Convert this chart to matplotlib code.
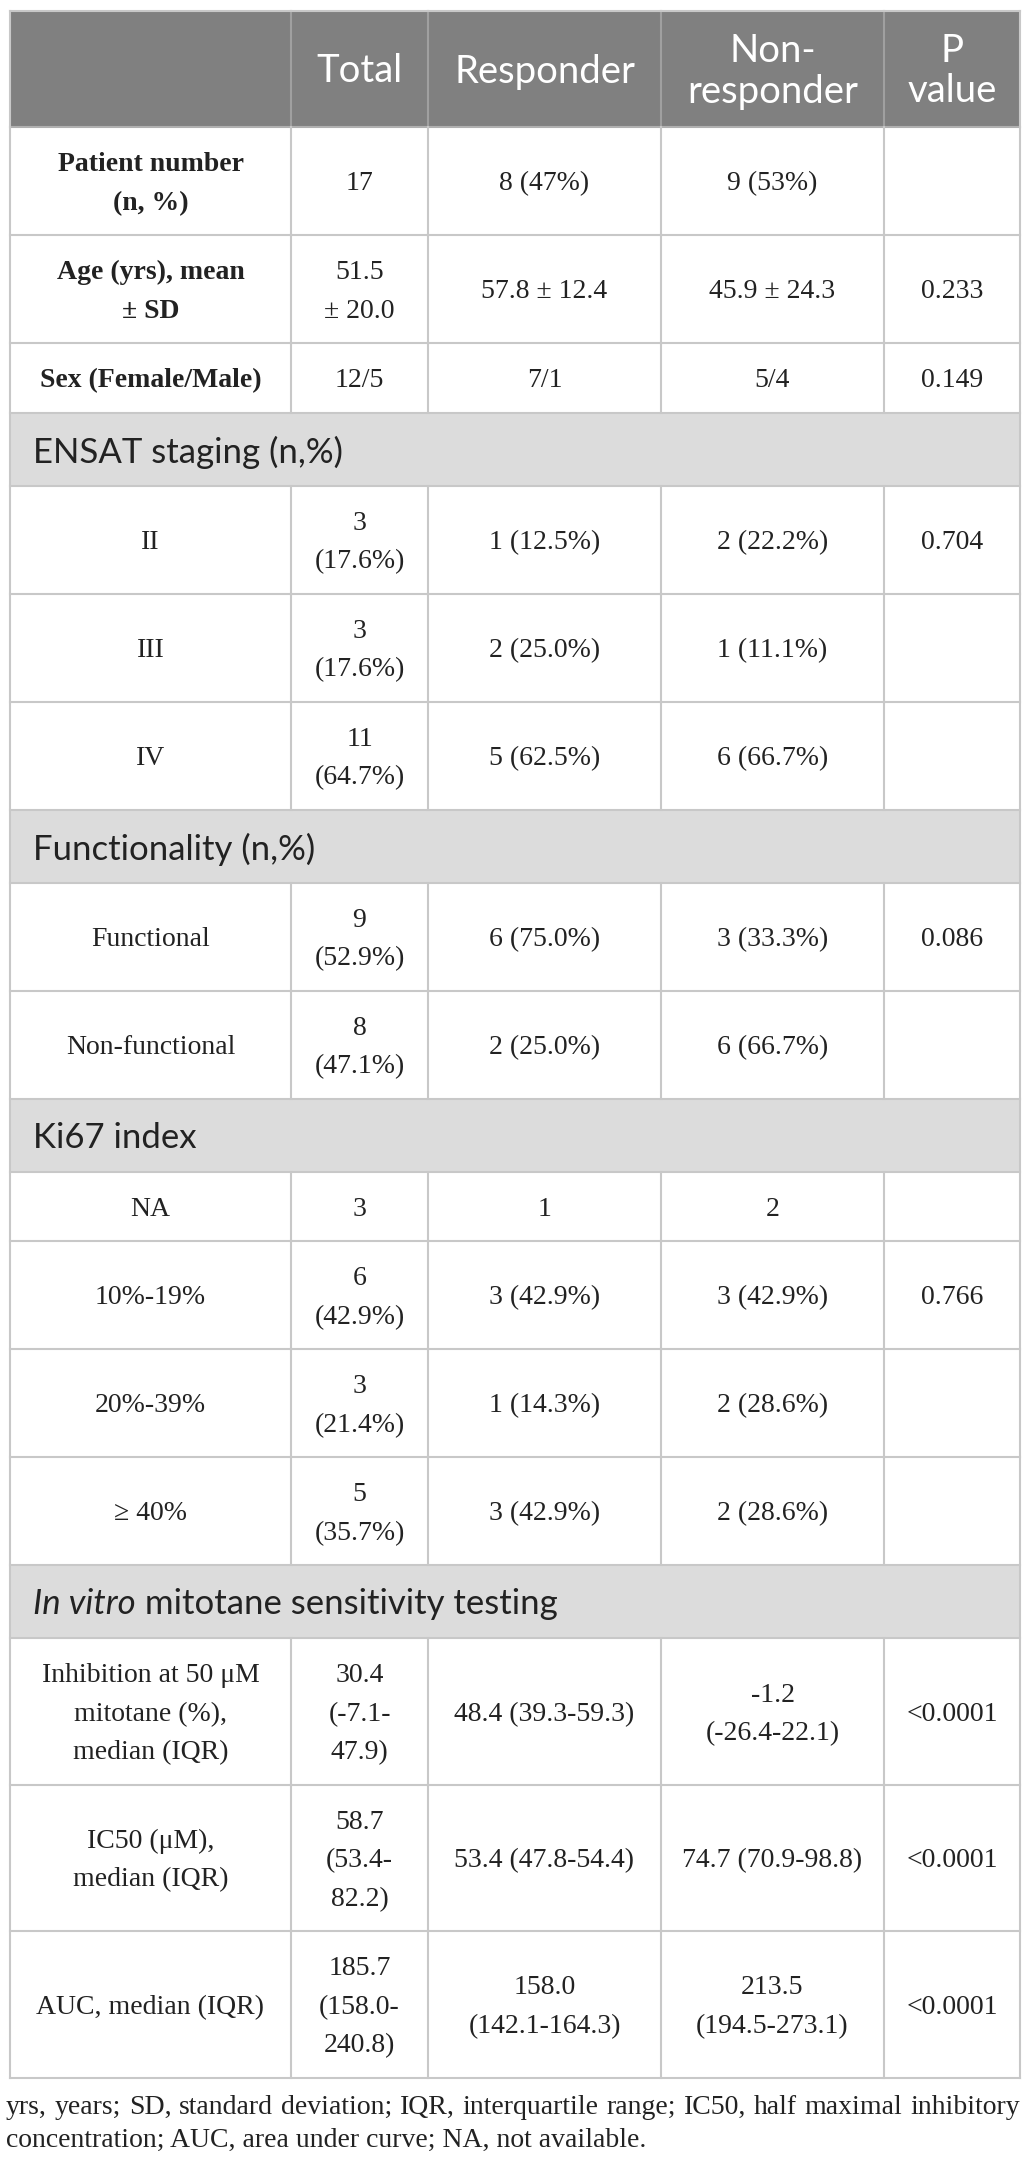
import matplotlib.pyplot as plt
from matplotlib.patches import Rectangle

# table content
header = ['', 'Total', 'Responder', 'Non-\nresponder', 'P\nvalue']
sections = ['', 'ENSAT staging (n,%)', 'Functionality (n,%)', 'Ki67 index',
            'In vitro mitotane sensitivity testing']
row_section = [0, 0, 0, 1, 1, 1, 2, 2, 3, 3, 3, 3, 4, 4, 4]
row_labels = ['Patient number\n(n, %)', 'Age (yrs), mean\n± SD', 'Sex (Female/Male)',
              'II', 'III', 'IV',
              'Functional', 'Non-functional',
              'NA', '10%-19%', '20%-39%', '≥ 40%',
              'Inhibition at 50 μM\nmitotane (%),\nmedian (IQR)',
              'IC50 (μM),\nmedian (IQR)', 'AUC, median (IQR)']
bold_labels = [True, True, True] + [False] * 12
total = ['17', '51.5\n± 20.0', '12/5',
         '3\n(17.6%)', '3\n(17.6%)', '11\n(64.7%)',
         '9\n(52.9%)', '8\n(47.1%)',
         '3', '6\n(42.9%)', '3\n(21.4%)', '5\n(35.7%)',
         '30.4\n(-7.1-\n47.9)', '58.7\n(53.4-\n82.2)', '185.7\n(158.0-\n240.8)']
responder = ['8 (47%)', '57.8 ± 12.4', '7/1',
             '1 (12.5%)', '2 (25.0%)', '5 (62.5%)',
             '6 (75.0%)', '2 (25.0%)',
             '1', '3 (42.9%)', '1 (14.3%)', '3 (42.9%)',
             '48.4 (39.3-59.3)', '53.4 (47.8-54.4)', '158.0\n(142.1-164.3)']
non_responder = ['9 (53%)', '45.9 ± 24.3', '5/4',
                 '2 (22.2%)', '1 (11.1%)', '6 (66.7%)',
                 '3 (33.3%)', '6 (66.7%)',
                 '2', '3 (42.9%)', '2 (28.6%)', '2 (28.6%)',
                 '-1.2\n(-26.4-22.1)', '74.7 (70.9-98.8)', '213.5\n(194.5-273.1)']
p_value = ['', '0.233', '0.149',
           '0.704', '', '',
           '0.086', '',
           '', '0.766', '', '',
           '<0.0001', '<0.0001', '<0.0001']
footnote = ['yrs, years; SD, standard deviation; IQR, interquartile range; IC50, half maximal inhibitory',
            'concentration; AUC, area under curve; NA, not available.']

W, H = 1025, 2167
fig = plt.figure(figsize=(W / 100, H / 100), dpi=100)
ax = fig.add_axes([0, 0, 1, 1])
ax.set_xlim(0, W)
ax.set_ylim(H, 0)
ax.axis('off')

col_edges = [10, 291, 428, 661, 884, 1020]
col_mid = [(a + b) / 2 for a, b in zip(col_edges[:-1], col_edges[1:])]
top = 11
header_h = 116
sec_h = 73
line_h = 38.5
pad = 31
grid = '#c8c8c8'
lw = 1.5
ink = '#222222'

serif = 'Liberation Serif'
sans = 'Lato'
body_size = 20
head_size = 27.5
sec_size = 25
note_size = 20


def cell_text(x, yc, s, spacing, **kw):
    lines = s.split('\n')
    n = len(lines)
    for k, ln in enumerate(lines):
        ax.text(x, yc + (k - (n - 1) / 2) * spacing, ln, va='center_baseline', **kw)


# header band
y = top
ax.add_patch(Rectangle((col_edges[0], y), col_edges[-1] - col_edges[0], header_h,
                       fc='#808080', ec='none'))
for j, h in enumerate(header):
    if h:
        cell_text(col_mid[j], y + header_h / 2 - 1, h, 40, ha='center',
                  family=sans, fontsize=head_size, color='white')
for x in col_edges[1:-1]:
    ax.plot([x, x], [y, y + header_h], color='#a0a0a0', lw=lw)
y += header_h
ax.plot([col_edges[0], col_edges[-1]], [y, y], color='#b0b0b0', lw=lw)

prev = 0
for i in range(len(row_labels)):
    if row_section[i] != prev:
        prev = row_section[i]
        ax.add_patch(Rectangle((col_edges[0], y), col_edges[-1] - col_edges[0], sec_h,
                               fc='#dcdcdc', ec='none'))
        title = sections[prev]
        yc = y + sec_h / 2
        if title.startswith('In vitro'):
            t = ax.text(33, yc, 'In vitro', va='center_baseline', family=sans,
                        fontsize=sec_size, style='italic', color=ink)
            ax.annotate(title[len('In vitro'):], xy=(1, 0), xycoords=t,
                        ha='left', va='bottom', family=sans,
                        fontsize=sec_size, color=ink)
        else:
            ax.text(33, yc, title, va='center_baseline', family=sans,
                    fontsize=sec_size, color=ink)
        y += sec_h
        ax.plot([col_edges[0], col_edges[-1]], [y, y], color=grid, lw=lw)

    cells = [row_labels[i], total[i], responder[i], non_responder[i], p_value[i]]
    n = max(len(c.split('\n')) for c in cells)
    h = pad + n * line_h
    yc = y + h / 2
    for j, c in enumerate(cells):
        if c:
            weight = 'bold' if (j == 0 and bold_labels[i]) else 'normal'
            cell_text(col_mid[j], yc, c, line_h, ha='center', family=serif,
                      fontsize=body_size, weight=weight, color=ink)
    for x in col_edges[1:-1]:
        ax.plot([x, x], [y, y + h], color=grid, lw=lw)
    y += h
    ax.plot([col_edges[0], col_edges[-1]], [y, y], color=grid, lw=lw)

# outer border
ax.plot([col_edges[0], col_edges[0]], [top, y], color=grid, lw=lw)
ax.plot([col_edges[-1], col_edges[-1]], [top, y], color=grid, lw=lw)
ax.plot([col_edges[0], col_edges[-1]], [top, top], color=grid, lw=lw)

# footnote, first line justified
fig.canvas.draw()
renderer = fig.canvas.get_renderer()
base1 = y + 36
words = footnote[0].split()
objs = [ax.text(0, base1, w, va='baseline', family=serif, fontsize=note_size,
                color=ink) for w in words]
widths = [o.get_window_extent(renderer).width for o in objs]
left, right = 6, 1020
gap = (right - left - sum(widths)) / (len(words) - 1)
x = left
for o, wd in zip(objs, widths):
    o.set_x(x)
    x += wd + gap
ax.text(left, base1 + 33, footnote[1], va='baseline', family=serif,
        fontsize=note_size, color=ink)

fig.savefig('out.png', dpi=100)
